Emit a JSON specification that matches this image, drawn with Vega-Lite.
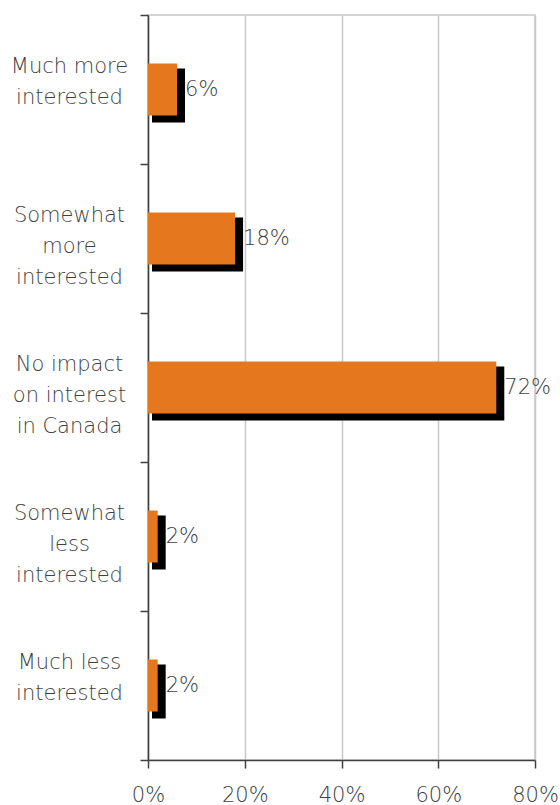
{
  "$schema": "https://vega.github.io/schema/vega-lite/v6.json",
  "width": 387,
  "height": 745,
  "autosize": {"type": "none"},
  "padding": {"left": 148, "top": 15, "right": 25, "bottom": 45},
  "config": {"view": {"stroke": "#c8c8c8", "strokeWidth": 1.5}, "font": "DejaVu Sans"},
  "data": {
    "values": [
      {"category": "Much more|interested", "value": 0.06},
      {"category": "Somewhat|more|interested", "value": 0.18},
      {"category": "No impact|on interest|in Canada", "value": 0.72},
      {"category": "Somewhat|less|interested", "value": 0.02},
      {"category": "Much less|interested", "value": 0.02}
    ]
  },
  "encoding": {
    "y": {
      "field": "category",
      "type": "nominal",
      "sort": null,
      "scale": {"paddingInner": 0, "paddingOuter": 0},
      "axis": {
        "title": null,
        "tickBand": "extent",
        "tickSize": 8,
        "tickColor": "#404040",
        "tickWidth": 1.5,
        "domainColor": "#404040",
        "domainWidth": 1.5,
        "labelAlign": "center",
        "labelBaseline": "middle",
        "labelPadding": 71,
        "labelOffset": -23,
        "labelFontSize": 21,
        "labelFontWeight": 200,
        "labelColor": "#404040",
        "labelLineHeight": 31,
        "labelLimit": 200,
        "labelExpr": "split(datum.label, '|')",
        "grid": false
      }
    },
    "x": {
      "field": "value",
      "type": "quantitative",
      "scale": {"domain": [0, 0.8]},
      "axis": {
        "title": null,
        "format": ".0%",
        "values": [0, 0.2, 0.4, 0.6, 0.8],
        "grid": true,
        "gridColor": "#c8c8c8",
        "gridWidth": 1.5,
        "tickSize": 8,
        "tickColor": "#404040",
        "tickWidth": 1.5,
        "domainColor": "#404040",
        "domainWidth": 1.5,
        "labelFontSize": 21,
        "labelFontWeight": 200,
        "labelColor": "#404040",
        "labelPadding": 16,
        "labelFlush": false
      }
    }
  },
  "layer": [
    {
      "mark": {"type": "bar", "color": "#000000", "height": 54, "yOffset": 6, "xOffset": 8, "x2Offset": 4},
      "encoding": {"x2": {"datum": 0}}
    },
    {
      "mark": {"type": "bar", "color": "#E5781F", "height": 52},
      "encoding": {"x2": {"datum": 0}}
    },
    {
      "mark": {"type": "text", "align": "left", "baseline": "middle", "dx": 8, "fontSize": 21, "fontWeight": 200, "color": "#404040"},
      "encoding": {"text": {"field": "value", "format": ".0%"}}
    }
  ]
}
